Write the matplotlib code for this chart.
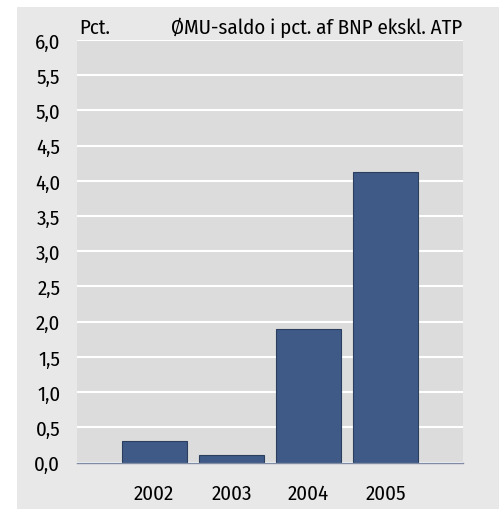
import numpy as np
import matplotlib.pyplot as plt
from matplotlib.patches import Rectangle
from matplotlib.ticker import MultipleLocator, FuncFormatter

years = ["2002", "2003", "2004", "2005"]
saldo = [0.31, 0.11, 1.89, 4.12]

plt.rcParams["font.family"] = ["Fira Sans Condensed", "DejaVu Sans"]

fig = plt.figure(figsize=(5.04, 5.10), dpi=100, facecolor="white")
bg = Rectangle((17 / 504, 0), 482 / 504, 502 / 510, transform=fig.transFigure,
               facecolor="#e8e8e8", edgecolor="none", zorder=-10)
fig.add_artist(bg)

ax = fig.add_axes([77 / 504, 1 - 463.5 / 510, 386 / 504, 422.5 / 510])
ax.set_facecolor("#dcdcdc")

x = np.arange(len(years))
ax.bar(x, saldo, width=0.84, color="#3f5a87", edgecolor="#2b3e5e",
       linewidth=0.8, zorder=3)

ax.set_xlim(-1, 4)
ax.set_ylim(0, 6)
ax.yaxis.set_major_locator(MultipleLocator(0.5))
ax.yaxis.set_major_formatter(FuncFormatter(lambda v, p: f"{v:.1f}".replace(".", ",")))
ax.grid(axis="y", color="white", linewidth=1.5, zorder=1)
ax.set_axisbelow(True)

for s in ["top", "right", "left"]:
    ax.spines[s].set_visible(False)
ax.spines["bottom"].set_color("#7f8ca3")
ax.spines["bottom"].set_linewidth(1.0)
ax.spines["bottom"].set_zorder(4)

ax.set_xticks(x)
ax.set_xticklabels(years)
ax.tick_params(axis="x", length=0, pad=15, labelsize=15)
ax.tick_params(axis="y", length=0, pad=12, labelsize=15)

ax.text(0.005, 1.008, "Pct.", transform=ax.transAxes, fontsize=15,
        ha="left", va="bottom")
ax.text(0.998, 1.008, "ØMU-saldo i pct. af BNP ekskl. ATP", transform=ax.transAxes,
        fontsize=15, ha="right", va="bottom")

fig.savefig("out.png", dpi=100, facecolor=fig.get_facecolor())
